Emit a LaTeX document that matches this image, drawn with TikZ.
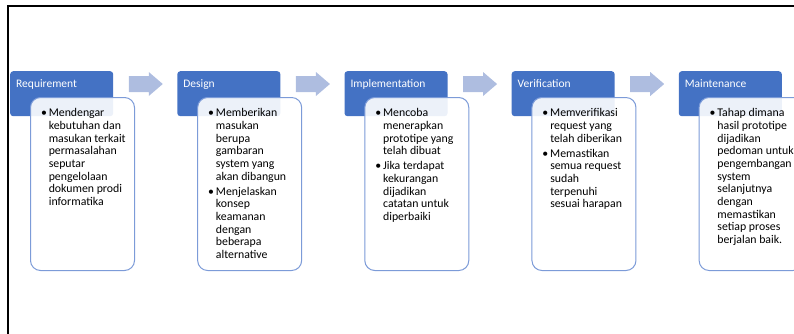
\documentclass[tikz,border=0pt]{standalone}
\usepackage{fontspec}
\setmainfont{Carlito}
\usepackage{tikz}
\usetikzlibrary{positioning,calc}

\definecolor{stepblue}{RGB}{68,114,196}
\definecolor{noteedge}{RGB}{124,155,216}
\definecolor{flowblue}{RGB}{174,189,224}

% bullet with hanging indent
\newcommand{\stepitem}{\par\hangindent=7.8pt\hangafter=1\noindent\hbox to 7.8pt{\textbullet\hss}}
\newcommand{\notetext}[1]{\makebox[83pt][l]{\parbox[t][151pt][t]{100pt}{\fontsize{11.8}{12.67}\selectfont\raggedright\setlength{\parskip}{2.3pt}#1}}}

\begin{document}
\begin{tikzpicture}[x=1pt,y=-1pt,
	stephead/.style={rectangle,rounded corners=3pt,fill=stepblue,text=white,
		font=\fontsize{11.5}{13}\selectfont,align=left,text width=91pt,
		inner xsep=6pt,inner ysep=7pt,text height=9pt,text depth=22pt,anchor=north west},
	stepnote/.style={rectangle,rounded corners=10pt,draw=noteedge,line width=1pt,
		fill=white,fill opacity=0.9,text opacity=1,inner xsep=10.5pt,inner ysep=11pt,
		anchor=north west}]
					\useasboundingbox (0,0) rectangle (794,333);
					% frame
					\draw[line width=1.2pt] (8,345) -- (8,6) -- (810,6);
					% stages
					\node[stephead] (h1) at (10,71) {Requirement};
					\node[stepnote] (n1) at ([shift={(20,26)}]h1.north west) {\notetext{%
						\stepitem Mendengar\newline kebutuhan dan\newline masukan terkait\newline permasalahan\newline seputar\newline pengelolaan\newline dokumen prodi\newline informatika}};
					\node[stephead,right=63.75pt of h1] (h2) {Design};
					\node[stepnote] (n2) at ([shift={(20,26)}]h2.north west) {\notetext{%
						\stepitem Memberikan\newline masukan\newline berupa\newline gambaran\newline system yang\newline akan dibangun
						\stepitem Menjelaskan\newline konsep\newline keamanan\newline dengan\newline beberapa\newline alternative}};
					\node[stephead,right=63.75pt of h2] (h3) {Implementation};
					\node[stepnote] (n3) at ([shift={(20,26)}]h3.north west) {\notetext{%
						\stepitem Mencoba\newline menerapkan\newline prototipe yang\newline telah dibuat
						\stepitem Jika terdapat\newline kekurangan\newline dijadikan\newline catatan untuk\newline diperbaiki}};
					\node[stephead,right=63.75pt of h3] (h4) {Verification};
					\node[stepnote] (n4) at ([shift={(20,26)}]h4.north west) {\notetext{%
						\stepitem Memverifikasi\newline request yang\newline telah diberikan
						\stepitem Memastikan\newline semua request\newline sudah\newline terpenuhi\newline sesuai harapan}};
					\node[stephead,right=63.75pt of h4] (h5) {Maintenance};
					\node[stepnote] (n5) at ([shift={(20,26)}]h5.north west) {\notetext{%
						\stepitem Tahap dimana\newline hasil prototipe\newline dijadikan\newline pedoman untuk\newline pengembangan\newline system\newline selanjutnya\newline dengan\newline memastikan\newline setiap proses\newline berjalan baik.}};
					% block arrows between stages
					\foreach \a/\b in {h1/h2,h2/h3,h3/h4,h4/h5}
					\fill[flowblue] ($(\a.north east)!0.5!(\b.north west)$) ++(-16.5,5) -- ++(20,0) -- ++(0,-4)
						-- ++(14,12) -- ++(-14,12) -- ++(0,-4) -- ++(-20,0) -- cycle;
				\end{tikzpicture}
\end{document}
